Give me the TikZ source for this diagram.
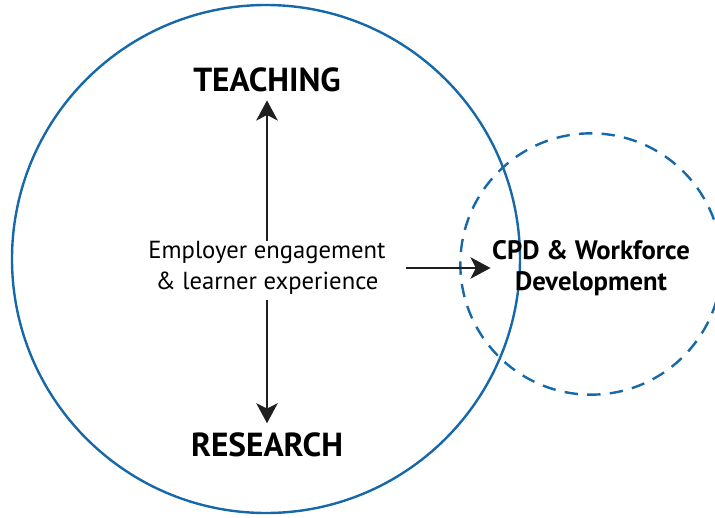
\documentclass[tikz,border=0pt]{standalone}
\usepackage{fontspec}
\setmainfont{PT Sans}
\usetikzlibrary{arrows.meta,positioning}
\definecolor{ringblue}{RGB}{22,104,168}

\begin{document}
\begin{tikzpicture}[x=0.75pt,y=-0.75pt,
    ring/.style={circle, draw=ringblue, line width=1.8pt, inner sep=0pt},
    pillar/.style={font=\bfseries\fontsize{25}{28}\selectfont, inner sep=0pt},
    link/.style={-{Stealth[length=15pt,width=16pt,inset=4pt]}, line width=2pt, draw=black!88}]
    \useasboundingbox (0,0) rectangle (715,518);
    \node[ring, minimum size=381pt] (core) at (266,259) {};
    \node[ring, dashed, dash pattern=on 10pt off 7pt, minimum size=196pt] (cpdring) at (591,264) {};
    \node[pillar] (teach) at (267,80) {TEACHING};
    \node[pillar] (research) at (267,445) {RESEARCH};
    \node[align=center, inner sep=0pt, font=\fontsize{18.5}{23.5}\selectfont] (eng) at (267,268) {Employer engagement\\\& learner experience};
    \node[align=center, inner sep=0pt, font=\bfseries\fontsize{20}{23.5}\selectfont] (cpd) at (591,268) {CPD \& Workforce\\Development};
    \draw[link, shorten >=6pt] (eng.north) -- (teach.south);
    \draw[link, shorten <=4pt, shorten >=7pt] (eng.south) -- (research.north);
    \draw[link, shorten <=15pt, shorten >=1pt] (eng.east) -- (cpd.west);
\end{tikzpicture}
\end{document}
